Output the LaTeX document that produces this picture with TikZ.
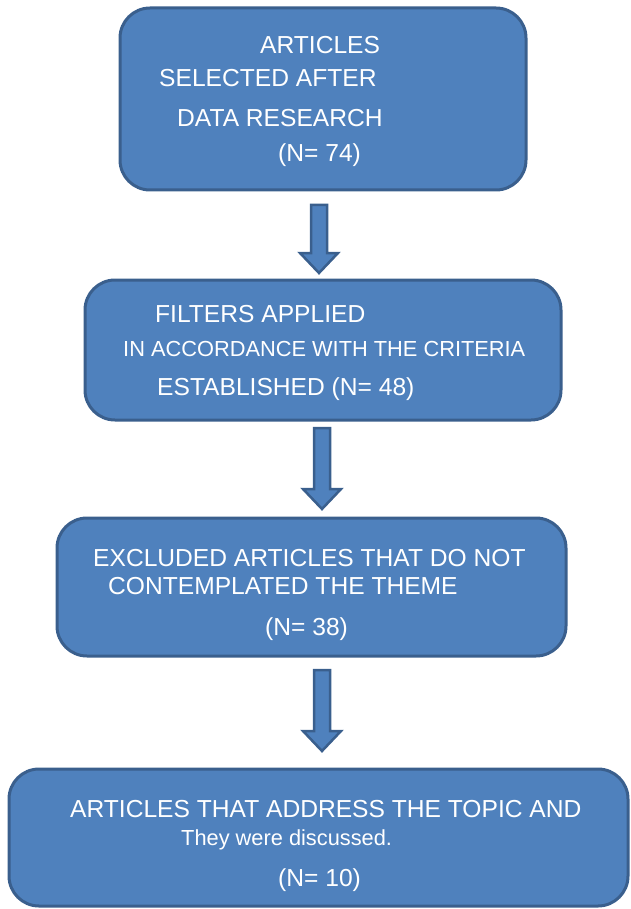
\documentclass[tikz,border=0pt]{standalone}
\usepackage{fontspec}
\setmainfont{Liberation Sans}
\usetikzlibrary{calc}
\definecolor{boxfill}{HTML}{4F81BD}
\definecolor{boxline}{HTML}{3A5F8D}
\begin{document}
\begin{tikzpicture}[x=1pt,y=-1pt,
  box/.style={draw=boxline, line width=3pt, fill=boxfill, rounded corners=30pt, inner sep=0pt},
  txt/.style={anchor=base west, text=white, inner sep=0pt, font=\fontsize{24.6}{28}\selectfont},
  smalltxt/.style={txt, font=\fontsize{21.8}{26}\selectfont},
  blockarrow/.style={draw=boxline, line width=2.5pt, fill=boxfill, line join=miter}]
\useasboundingbox (0,0) rectangle (630,909);
% boxes
\node[box, minimum width=406pt, minimum height=182pt] (b1) at (323,99) {};
\node[box, minimum width=476pt, minimum height=140pt] (b2) at (323,350) {};
\node[box, minimum width=509pt, minimum height=138pt] (b3) at (311.5,587) {};
\node[box, minimum width=619pt, minimum height=137pt] (b4) at (318.5,837.5) {};
% texts box 1
\node[txt] (t11) at (260,54) {ARTICLES};
\node[txt] (t12) at (159,87) {SELECTED AFTER};
\node[txt] (t13) at (177,127) {DATA RESEARCH};
\node[txt] (t14) at (278,162) {(N= 74)};
% texts box 2
\node[txt] (t21) at (155,322) {FILTERS APPLIED};
\node[smalltxt] (t22) at (123,356) {IN ACCORDANCE WITH THE CRITERIA};
\node[txt] (t23) at (157,395) {ESTABLISHED (N= 48)};
% texts box 3
\node[txt] (t31) at (93,566) {EXCLUDED ARTICLES THAT DO NOT};
\node[txt] (t32) at (108,594) {CONTEMPLATED THE THEME};
\node[txt] (t33) at (265,635) {(N= 38)};
% texts box 4
\node[txt] (t41) at (70,817) {ARTICLES THAT ADDRESS THE TOPIC AND};
\node[smalltxt] (t42) at (181,845) {They were discussed.};
\node[txt] (t43) at (278,886) {(N= 10)};
% block arrows
\coordinate (a1top) at (319,205);
\coordinate (a1tip) at (319,273);
\coordinate (a2top) at (322,428);
\coordinate (a2tip) at (322,509);
\coordinate (a3top) at (322,670);
\coordinate (a3tip) at (322,751);
\foreach \a in {a1,a2,a3}{
  \draw[blockarrow] ($(\a top)+(-8,0)$) -- ($(\a top)+(8,0)$)
    -- ($(\a tip)+(8,-20)$) -- ($(\a tip)+(19,-20)$) -- (\a tip)
    -- ($(\a tip)+(-19,-20)$) -- ($(\a tip)+(-8,-20)$) -- cycle;
}
\end{tikzpicture}
\end{document}
